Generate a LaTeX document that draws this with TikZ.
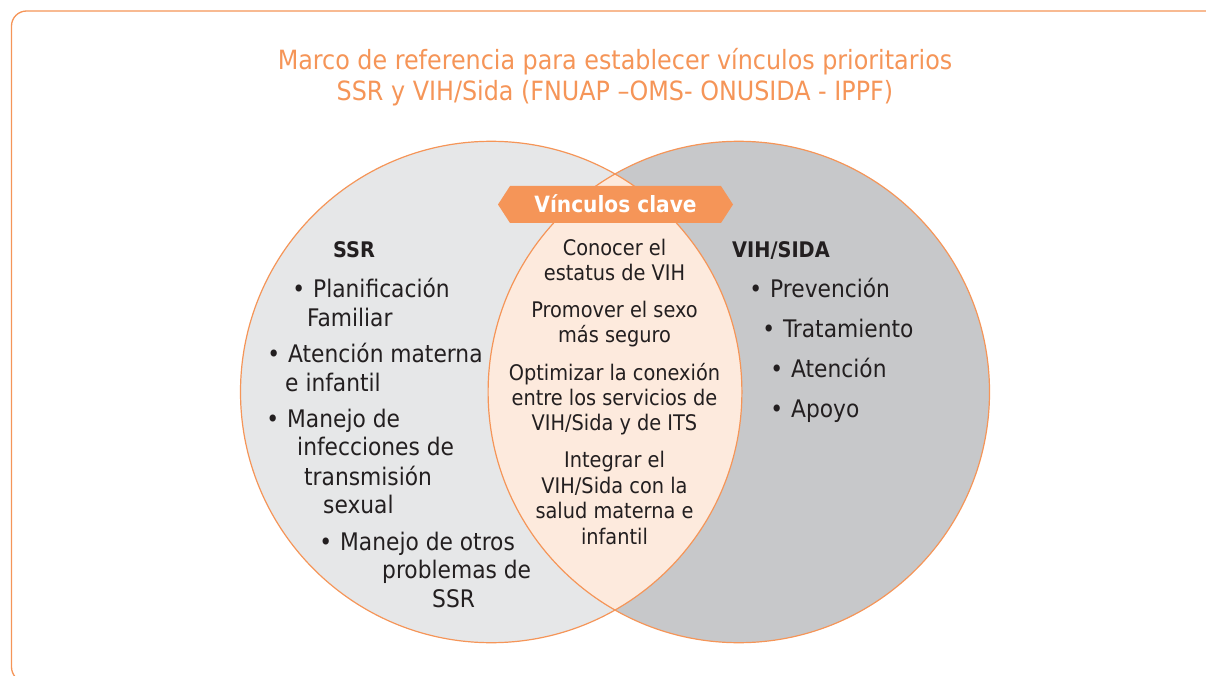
\documentclass[tikz,border=0pt]{standalone}
\usepackage{fontspec}
\setmainfont{DejaVu Sans Condensed}
\definecolor{orng}{RGB}{245,149,88}
\definecolor{lgray}{RGB}{230,231,232}
\definecolor{dgray}{RGB}{199,200,202}
\definecolor{peach}{RGB}{253,234,221}
\definecolor{ink}{RGB}{35,31,32}
\newcommand\bul{\llap{•\hspace{8pt}}}
\tikzset{
  frame/.style={draw=orng, line width=1.3pt, rounded corners=15pt},
  ttl/.style={anchor=base, inner sep=0pt, text=orng, font=\fontsize{26.5}{30}\selectfont},
  hd/.style={anchor=base west, inner sep=0pt, text=ink, font=\fontsize{21.5}{26}\selectfont\bfseries},
  side/.style={anchor=base west, inner sep=0pt, text=ink, font=\fontsize{24.2}{28}\selectfont},
  mid/.style={anchor=base, inner sep=0pt, text=ink, font=\fontsize{21.5}{25}\selectfont},
  ring/.style={draw=orng, line width=1.2pt},
  banner/.style={fill=orng},
  bantext/.style={anchor=base, inner sep=0pt, text=white, font=\fontsize{22.4}{26}\selectfont\bfseries}
}
\begin{document}
\begin{tikzpicture}[x=1pt,y=-1pt]
\useasboundingbox (0,0) rectangle (1206,676);
\begin{scope}
  \clip (0,0) rectangle (1206,676);
  \draw[frame] (11.5,11) rectangle (1240,682);
\end{scope}
% title
\node[ttl] (t1) at (615,70) {Marco de referencia para establecer vínculos prioritarios};
\node[ttl] (t2) at (615,101) {SSR y VIH/Sida (FNUAP –OMS- ONUSIDA - IPPF)};
% circles
\coordinate (cl) at (491.2,392);
\coordinate (cr) at (738.8,392);
\fill[lgray] (cl) circle (250.7pt);
\fill[dgray] (cr) circle (250.7pt);
\begin{scope}
  \clip (cl) circle (250.7pt);
  \fill[peach] (cr) circle (250.7pt);
\end{scope}
\draw[ring] (cl) circle (250.7pt);
\draw[ring] (cr) circle (250.7pt);
% banner
\fill[banner] (498,204.5) -- (510,186) -- (721,186) -- (733,204.5) -- (721,223) -- (510,223) -- cycle;
\node[bantext] (ban) at (615.5,213) {Vínculos clave};
% left
\node[hd] (ssr) at (333,257) {SSR};
\node[side] (l1) at (313,297) {\bul Planificación};
\node[side] (l2) at (307,326) {Familiar};
\node[side] (l3) at (288,362) {\bul Atención materna};
\node[side] (l4) at (285,391) {e infantil};
\node[side] (l5) at (287,427) {\bul Manejo de};
\node[side] (l6) at (297,455) {infecciones de};
\node[side] (l7) at (304,485) {transmisión};
\node[side] (l8) at (323,513) {sexual};
\node[side] (l9) at (340,550) {\bul Manejo de otros};
\node[side] (l10) at (382,578) {problemas de};
\node[side] (l11) at (432,607) {SSR};
% right
\node[hd] (vih) at (732,257) {VIH/SIDA};
\node[side] (r1) at (770,297) {\bul Prevención};
\node[side] (r2) at (783,337) {\bul Tratamiento};
\node[side] (r3) at (791,377) {\bul Atención};
\node[side] (r4) at (791,417) {\bul Apoyo};
% middle
\node[mid] (m1) at (614.5,255) {Conocer el};
\node[mid] (m2) at (614.5,280) {estatus de VIH};
\node[mid] (m3) at (614.5,317) {Promover el sexo};
\node[mid] (m4) at (614.5,342) {más seguro};
\node[mid] (m5) at (614.5,380) {Optimizar la conexión};
\node[mid] (m6) at (614.5,405) {entre los servicios de};
\node[mid] (m7) at (614.5,430) {VIH/Sida y de ITS};
\node[mid] (m8) at (614.5,467) {Integrar el};
\node[mid] (m9) at (614.5,493) {VIH/Sida con la};
\node[mid] (m10) at (614.5,518) {salud materna e};
\node[mid] (m11) at (614.5,544) {infantil};
\end{tikzpicture}
\end{document}
